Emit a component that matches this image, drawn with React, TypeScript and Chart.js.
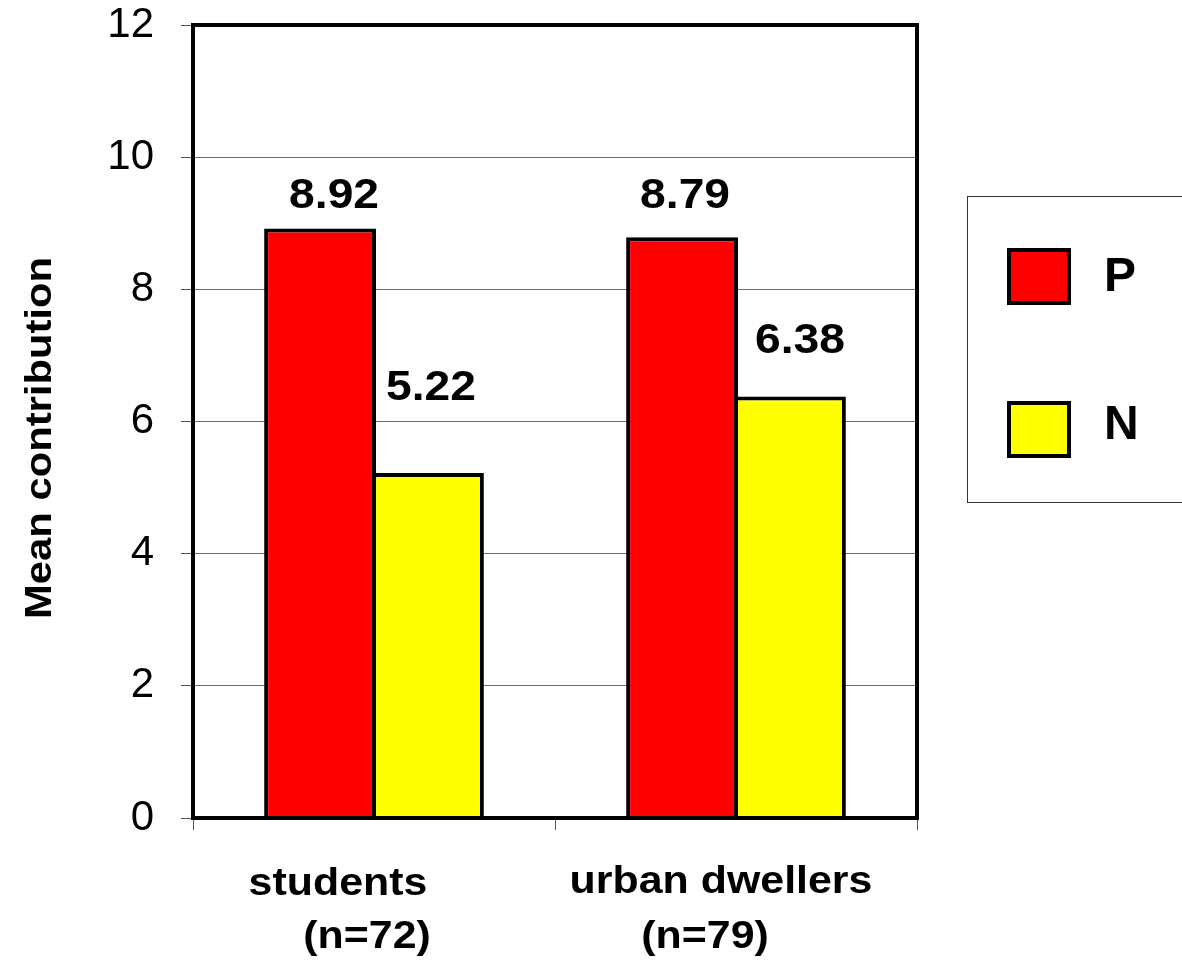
import React, { useEffect, useRef } from "react";
import { Chart, registerables } from "chart.js";

Chart.register(...registerables);

const categories = ["students", "urban dwellers"];
const categorySubLabels = ["(n=72)", "(n=79)"];
const seriesNames = ["P", "N"];
const valuesP = [8.92, 8.79];
const valuesN = [5.22, 6.38];
const yTicks = [0, 2, 4, 6, 8, 10, 12];
const yTitle = "Mean contribution";

const colors = ["#ff0000", "#ffff00"];
// label style offsets: [dx, distance of baseline above bar top] per dataset/bar
const labelOffsets = [
  [[14, 21], [3, 29]],
  [[3, 73], [10, 43]],
];
const FONT = "'Liberation Sans', Arial, Helvetica, sans-serif";

function drawText(
  ctx: CanvasRenderingContext2D,
  text: string,
  x: number,
  y: number,
  font: string,
  sx: number,
  align: CanvasTextAlign
) {
  ctx.save();
  ctx.translate(x, y);
  ctx.scale(sx, 1);
  ctx.font = font;
  ctx.fillStyle = "#000";
  ctx.textAlign = align;
  ctx.textBaseline = "alphabetic";
  ctx.fillText(text, 0, 0);
  ctx.restore();
}

const decorPlugin = {
  id: "decor",
  afterDraw(chart: any) {
    const ctx: CanvasRenderingContext2D = chart.ctx;
    const area = chart.chartArea;
    // plot frame
    ctx.save();
    ctx.strokeStyle = "#000";
    ctx.lineWidth = 4;
    ctx.strokeRect(area.left, area.top, area.right - area.left, area.bottom - area.top);
    ctx.restore();

    // value labels
    chart.data.datasets.forEach((ds: any, di: number) => {
      const meta = chart.getDatasetMeta(di);
      meta.data.forEach((bar: any, i: number) => {
        const v = ds.data[i] as number;
        const [dx, dy] = labelOffsets[di][i];
        drawText(ctx, v.toFixed(2), bar.x + dx, bar.y - dy, `bold 42px ${FONT}`, 1.1, "center");
      });
    });

    // x category labels
    const xs = chart.scales.x;
    const xLabelStyle = [
      { d1: -36, b1: 895, d2: -7, b2: 948 },
      { d1: -15, b1: 893, d2: -31, b2: 948 },
    ];
    categories.forEach((c, i) => {
      const cx = xs.getPixelForValue(i);
      const st = xLabelStyle[i];
      drawText(ctx, c, cx + st.d1, st.b1, `bold 39px ${FONT}`, 1.1, "center");
      drawText(ctx, categorySubLabels[i], cx + st.d2, st.b2, `bold 39px ${FONT}`, 1.1, "center");
    });

    // y title
    ctx.save();
    ctx.translate(51, 438);
    ctx.rotate(-Math.PI / 2);
    ctx.scale(1.16, 1);
    ctx.font = `bold 36px ${FONT}`;
    ctx.fillStyle = "#000";
    ctx.textAlign = "center";
    ctx.textBaseline = "alphabetic";
    ctx.fillText(yTitle, 0, 0);
    ctx.restore();

    // legend
    ctx.save();
    ctx.strokeStyle = "#333";
    ctx.lineWidth = 1;
    ctx.strokeRect(967.5, 196.5, 260, 306);
    const swatchY = [250, 403];
    const textY = [291, 439];
    chart.data.datasets.forEach((ds: any, di: number) => {
      ctx.fillStyle = ds.backgroundColor;
      ctx.fillRect(1009, swatchY[di], 60, 53);
      ctx.strokeStyle = "#000";
      ctx.lineWidth = 4;
      ctx.strokeRect(1009, swatchY[di], 60, 53);
      drawText(ctx, ds.label, 1104, textY[di], `bold 48px ${FONT}`, 1.0, "left");
    });
    ctx.restore();
  },
};

export default function App() {
  const ref = useRef<HTMLCanvasElement>(null);
  useEffect(() => {
    if (!ref.current) return;
    const chart = new Chart(ref.current, {
      type: "bar",
      data: {
        labels: categories,
        datasets: [
          {
            label: seriesNames[0],
            data: valuesP,
            backgroundColor: colors[0],
            borderColor: "#000",
            borderWidth: 4,
            categoryPercentage: 0.596,
            barPercentage: 1.037,
          },
          {
            label: seriesNames[1],
            data: valuesN,
            backgroundColor: colors[1],
            borderColor: "#000",
            borderWidth: 4,
            categoryPercentage: 0.596,
            barPercentage: 1.037,
          },
        ],
      },
      options: {
        responsive: false,
        animation: false,
        layout: { padding: { top: 25, right: 265, bottom: 0, left: 0 } },
        plugins: {
          legend: { display: false },
          tooltip: { enabled: false },
        },
        scales: {
          x: {
            offset: true,
            border: { display: false },
            grid: {
              offset: true,
              drawOnChartArea: false,
              drawTicks: true,
              tickLength: 12,
              tickColor: "#555",
              tickWidth: 1,
            },
            ticks: { display: false },
            afterFit: (s: any) => {
              s.height = 152;
              s.paddingLeft = 0;
              s.paddingRight = 0;
            },
          },
          y: {
            min: 0,
            max: 12,
            border: { display: false },
            afterBuildTicks: (s: any) => {
              s.ticks = yTicks.map((v) => ({ value: v }));
            },
            grid: {
              color: "#3d6bff",
              lineWidth: 1,
              drawTicks: true,
              tickLength: 12,
              tickColor: "#555",
              tickWidth: 1,
            },
            ticks: {
              color: "#000",
              padding: 27,
              font: { family: FONT, size: 42 },
            },
            afterFit: (s: any) => {
              s.width = 193;
              s.paddingTop = 0;
              s.paddingBottom = 0;
            },
          },
        },
      },
      plugins: [decorPlugin],
    });
    return () => chart.destroy();
  }, []);
  return (
    <div style={{ position: "absolute", left: 0, top: 0, width: 1182, height: 970, background: "#fff" }}>
      <canvas ref={ref} width={1182} height={970} />
    </div>
  );
}
